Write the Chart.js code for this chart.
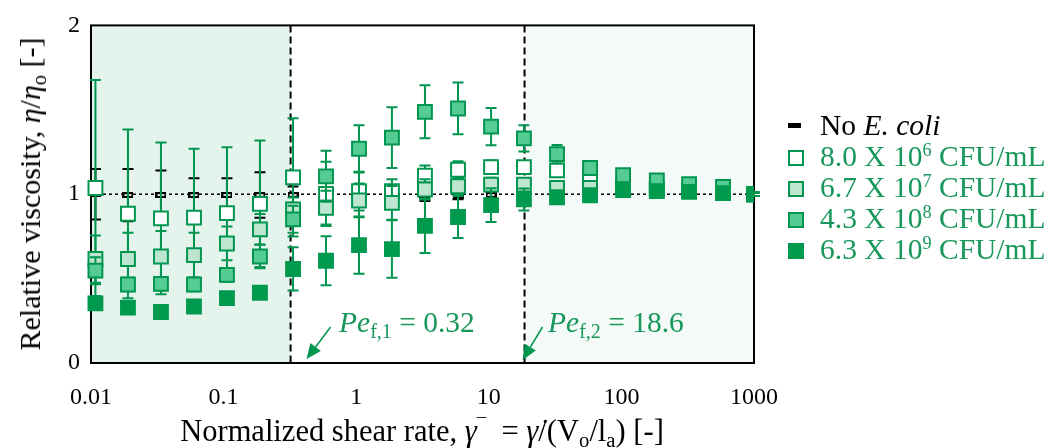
<!DOCTYPE html>
<html><head><meta charset="utf-8">
<script src="https://cdn.jsdelivr.net/npm/chart.js@4.4.1/dist/chart.umd.min.js"></script>
<style>
html,body{margin:0;padding:0;background:#fff;}
#wrap{position:relative;width:1052px;height:448px;overflow:hidden;font-family:"Liberation Serif","Times New Roman",serif;}
#c{position:absolute;left:0;top:0;}
.t{position:absolute;white-space:nowrap;line-height:1;}
sub{font-size:0.68em;line-height:0;vertical-align:-0.3em;}
sup{font-size:0.62em;line-height:0;vertical-align:0.55em;}
.g{color:#17985a;}
.lg{position:absolute;left:788px;font-size:29.5px;white-space:nowrap;line-height:1;}
.mk{position:absolute;box-sizing:border-box;width:16px;height:16px;border:2px solid #00964f;}
.lt{position:absolute;left:32px;top:0;}
</style></head>
<body>
<div id="wrap">
<canvas id="c" width="1052" height="448" style="width:1052px;height:448px"></canvas>
<div class="t" style="left:30px;top:194px;font-size:30px;transform:translate(-50%,-50%) rotate(-90deg);transform-origin:50% 50%;">Relative viscosity, <i>η</i>/<i>η</i><sub>o</sub> [-]</div>
<div class="t" style="left:422px;top:416px;font-size:30.5px;transform:translateX(-50%);">Normalized shear rate, <i>γ</i><sup>¯</sup>&nbsp; = <i>γ̇</i>/(V<sub>o</sub>/l<sub>a</sub>) [-]</div>
<div class="t g" style="left:339px;top:308px;font-size:29.5px;"><i>Pe</i><sub>f,1</sub> = 0.32</div>
<div class="t g" style="left:548px;top:308px;font-size:29.5px;"><i>Pe</i><sub>f,2</sub> = 18.6</div>
<div class="lg" style="top:111px;"><span class="mk" style="border:none;background:#000;width:13px;height:5px;top:12px;"></span><span class="lt">No <i>E. coli</i></span></div>
<div class="lg g" style="top:142px;"><span class="mk" style="background:#ffffff;top:8px;"></span><span class="lt">8.0 X 10<sup>6</sup> CFU/mL</span></div>
<div class="lg g" style="top:173px;"><span class="mk" style="background:#bde6d1;top:8px;"></span><span class="lt">6.7 X 10<sup>7</sup> CFU/mL</span></div>
<div class="lg g" style="top:204px;"><span class="mk" style="background:#55cc94;top:8px;"></span><span class="lt">4.3 X 10<sup>8</sup> CFU/mL</span></div>
<div class="lg g" style="top:235px;"><span class="mk" style="background:#009a4e;border-color:#009a4e;top:8px;"></span><span class="lt">6.3 X 10<sup>9</sup> CFU/mL</span></div>
</div>
<script>
// ---- data ----
const xVals = [0.0108, 0.019, 0.0337, 0.0598, 0.106, 0.188, 0.334, 0.592, 1.05, 1.86, 3.3, 5.86, 10.4, 18.4, 32.7, 58.0, 103, 185, 324, 584, 1000];
const xTickVals = [0.01, 0.1, 1, 10, 100, 1000];
const xTickLabels = ['0.01', '0.1', '1', '10', '100', '1000'];
const yTickVals = [0, 1, 2];
const yTickLabels = ['0', '1', '2'];
const peValues = [0.32, 18.6];
const refLevel = 1;

const noEcoli    = [1.0, 0.995, 0.995, 0.995, 0.995, 0.995, 0.995, 1.0, 0.99, 0.995, 0.99, 0.99, 0.995, 0.995, 1.0, 1.0, 1.0, 1.0, 1.0, 1.0, 1.0];
const noEcoliErr = [0.15, 0.155, 0.145, 0.10, 0.10, 0.135, 0.05, 0.03, 0.03, 0.03, 0.03, 0.02, 0.02, 0.01, 0.01, 0.01, 0.01, 0.01, 0.01, 0.01, 0.01];

const c8e6    = [1.037, 0.884, 0.857, 0.861, 0.888, 0.943, 1.10, 1.002, 1.018, 1.018, 1.11, 1.145, 1.16, 1.16, 1.141, 1.10, 1.05, 1.03, 1.02, 1.01, 1.0];
const c8e6Err = [0.64, 0.50, 0.449, 0.408, 0.39, 0.375, 0.35, 0.19, 0.115, 0.07, 0.06, 0.05, 0.04, 0.03, 0.02, 0.02, 0.01, 0.01, 0.01, 0.01, 0.01];

const c67e7    = [0.616, 0.616, 0.631, 0.639, 0.708, 0.792, 0.91, 0.92, 0.963, 0.949, 1.028, 1.047, 1.057, 1.057, 1.037, 1.037, 1.04, 1.03, 1.02, 1.01, 1.0];
const c67e7Err = [0.14, 0.156, 0.151, 0.133, 0.10, 0.09, 0.07, 0.10, 0.10, 0.10, 0.06, 0.05, 0.04, 0.03, 0.02, 0.02, 0.01, 0.01, 0.01, 0.01, 0.01];

const c43e8    = [0.547, 0.465, 0.469, 0.465, 0.522, 0.631, 0.851, 1.106, 1.269, 1.335, 1.488, 1.508, 1.40, 1.331, 1.237, 1.155, 1.112, 1.082, 1.059, 1.043, 1.0];
const c43e8Err = [0.08, 0.04, 0.04, 0.04, 0.04, 0.07, 0.08, 0.151, 0.14, 0.18, 0.157, 0.153, 0.11, 0.078, 0.055, 0.02, 0.01, 0.01, 0.01, 0.01, 0.01];

const c63e9    = [0.353, 0.328, 0.302, 0.335, 0.384, 0.416, 0.557, 0.606, 0.698, 0.675, 0.812, 0.865, 0.935, 0.969, 0.982, 0.994, 1.024, 1.018, 1.014, 1.006, 1.0];
const c63e9Err = [0.03, 0.02, 0.02, 0.02, 0.02, 0.02, 0.128, 0.145, 0.17, 0.17, 0.16, 0.125, 0.10, 0.065, 0.02, 0.02, 0.01, 0.01, 0.01, 0.01, 0.01];

// ---- styling ----
const GREEN = '#00964f';
const FONT = '"Liberation Serif", "Times New Roman", serif';

function dashMarker(){
  const cv = document.createElement('canvas');
  cv.width = 11; cv.height = 6;
  const x = cv.getContext('2d');
  x.fillStyle = '#000'; x.fillRect(0,0,11,6);
  x.fillStyle = '#d8d8d8'; x.fillRect(2,2,7,2);
  return cv;
}
const pts = ys => xVals.map((x,i)=>({x:x, y:ys[i]}));

function series(label, ys, errs, fill, border, order, style){
  return {label, data: pts(ys), errors: errs, errColor: border === '#000' ? '#000' : GREEN,
    pointStyle: style || 'rect', pointRadius: 9.8, pointHoverRadius: 9.8,
    pointBackgroundColor: fill, pointBorderColor: border, pointBorderWidth: 2,
    showLine: false, order, clip: {left: 12, top: 12, bottom: 12, right: 0}};
}

const bgPlugin = {
  id: 'bg',
  beforeDatasetsDraw(chart){
    const {ctx, chartArea: a, scales: {x, y}} = chart;
    const p1 = x.getPixelForValue(peValues[0]), p2 = x.getPixelForValue(peValues[1]);
    ctx.save();
    ctx.fillStyle = '#e4f3ec'; ctx.fillRect(a.left, a.top, p1 - a.left, a.bottom - a.top);
    ctx.fillStyle = '#f4faf7'; ctx.fillRect(p2, a.top, a.right - p2, a.bottom - a.top);
    ctx.strokeStyle = '#000'; ctx.lineWidth = 2; ctx.setLineDash([7,4]);
    [p1, p2].forEach(p => { ctx.beginPath(); ctx.moveTo(p, a.top); ctx.lineTo(p, a.bottom); ctx.stroke(); });
    ctx.setLineDash([]);
    ctx.strokeRect(a.left, a.top, a.right - a.left, a.bottom - a.top);
    ctx.restore();
  },
  beforeDatasetDraw(chart, args){
    const ds = chart.data.datasets[args.index];
    if (!ds.errors) return;
    const {ctx, scales: {y}} = chart;
    ctx.save();
    ctx.strokeStyle = ds.errColor; ctx.lineWidth = 2;
    args.meta.data.forEach((el, i) => {
      const v = ds.data[i].y, e = ds.errors[i];
      const t = y.getPixelForValue(v + e), b = y.getPixelForValue(v - e);
      ctx.beginPath();
      ctx.moveTo(el.x, t); ctx.lineTo(el.x, b);
      ctx.moveTo(el.x - 5.5, t); ctx.lineTo(el.x + 5.5, t);
      ctx.moveTo(el.x - 5.5, b); ctx.lineTo(el.x + 5.5, b);
      ctx.stroke();
    });
    ctx.restore();
  },
  afterDraw(chart){
    const {ctx, scales: {x}} = chart;
    const p1 = x.getPixelForValue(peValues[0]), p2 = x.getPixelForValue(peValues[1]);
    const arrows = [[p1 + 40, 327, p1 + 16, 359], [p2 + 18, 327, p2 - 2, 360]];
    ctx.save();
    ctx.strokeStyle = GREEN; ctx.fillStyle = GREEN; ctx.lineWidth = 1.5;
    arrows.forEach(([x0, y0, x1, y1]) => {
      const ang = Math.atan2(y1 - y0, x1 - x0), L = 15, W = 6.5;
      const bx = x1 - L * Math.cos(ang), by = y1 - L * Math.sin(ang);
      ctx.beginPath(); ctx.moveTo(x0, y0); ctx.lineTo(bx, by); ctx.stroke();
      ctx.beginPath(); ctx.moveTo(x1, y1);
      ctx.lineTo(bx + W * Math.sin(ang), by - W * Math.cos(ang));
      ctx.lineTo(bx - W * Math.sin(ang), by + W * Math.cos(ang));
      ctx.closePath(); ctx.fill();
    });
    ctx.restore();
  }
};

new Chart(document.getElementById('c'), {
  type: 'scatter',
  data: { datasets: [
    {label: 'ref', data: [{x: xTickVals[0], y: refLevel}, {x: xTickVals[xTickVals.length-1], y: refLevel}],
     showLine: true, borderColor: '#000', borderWidth: 1.5, borderDash: [3,3], pointRadius: 0, order: 10},
    series('No E. coli', noEcoli, noEcoliErr, '#000', '#000', 6, dashMarker()),
    series('8.0 X 10^6 CFU/mL', c8e6, c8e6Err, '#ffffff', GREEN, 5),
    series('6.7 X 10^7 CFU/mL', c67e7, c67e7Err, '#bde6d1', GREEN, 4),
    series('4.3 X 10^8 CFU/mL', c43e8, c43e8Err, '#55cc94', GREEN, 3),
    series('6.3 X 10^9 CFU/mL', c63e9, c63e9Err, '#009a4e', '#009a4e', 2)
  ]},
  options: {
    responsive: false, animation: false, devicePixelRatio: 1, events: [],
    layout: {padding: {left: 0, top: 23, right: 298, bottom: 0}},
    plugins: {legend: {display: false}, tooltip: {enabled: false}},
    scales: {
      x: {type: 'logarithmic', min: 0.01, max: 1000,
        afterBuildTicks: s => { s.ticks = xTickVals.map(v => ({value: v})); },
        afterFit: s => { s.height = 85; },
        grid: {display: false, drawTicks: false}, border: {display: false},
        ticks: {autoSkip: false, maxRotation: 0, padding: 20, color: '#000',
          font: {family: FONT, size: 24}, callback: (v, i) => xTickLabels[i]}},
      y: {type: 'linear', min: 0, max: 2,
        afterBuildTicks: s => { s.ticks = yTickVals.map(v => ({value: v})); },
        afterFit: s => { s.width = 91; },
        grid: {display: false, drawTicks: false}, border: {display: false},
        ticks: {padding: 11, color: '#000', font: {family: FONT, size: 24}, callback: (v, i) => yTickLabels[i]}}
    }
  },
  plugins: [bgPlugin]
});
</script>
</body></html>
